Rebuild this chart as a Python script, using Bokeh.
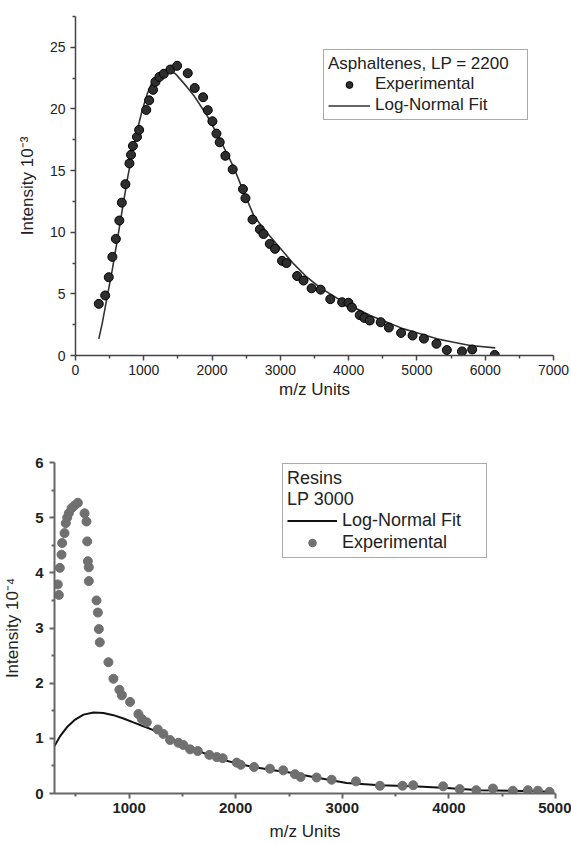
from bokeh.plotting import figure
from bokeh.layouts import column
from bokeh.models import Legend, LegendItem, Range1d, FixedTicker, ColumnDataSource
from bokeh.embed import file_html
from bokeh.resources import INLINE

FONT = "Liberation Sans"

# ---------------- Asphaltenes (top) ----------------
asph_x = [341, 435, 487, 540, 591, 642, 678, 731, 790, 813,
          841, 900, 932, 1036, 1078, 1136, 1171, 1229, 1293, 1390,
          1488, 1644, 1746, 1869, 1937, 2005, 2064, 2112, 2195, 2302,
          2452, 2489, 2592, 2700, 2753, 2845, 2922, 3024, 3090, 3245,
          3339, 3457, 3590, 3731, 3905, 3997, 4048, 4162, 4230, 4309,
          4470, 4589, 4768, 4936, 5102, 5286, 5438, 5660, 5809, 6139]
asph_y = [4.19, 4.87, 6.35, 8.0, 9.46, 10.95, 12.4, 13.9, 15.58, 16.28,
          17.0, 17.73, 18.3, 19.92, 20.7, 21.55, 22.2, 22.6, 22.85, 23.2,
          23.5, 22.9, 21.7, 20.95, 19.9, 19.0, 18.0, 17.3, 16.2, 15.1,
          13.5, 12.76, 11.03, 10.23, 9.86, 9.05, 8.65, 7.68, 7.5, 6.45,
          6.08, 5.45, 5.34, 4.57, 4.32, 4.28, 3.89, 3.28, 3.05, 2.84,
          2.7, 2.27, 1.83, 1.62, 1.37, 0.95, 0.44, 0.33, 0.49, 0.05]
asph_fit_x = [341, 390, 463, 537, 610, 683, 756, 830, 903, 976,
              1049, 1122, 1195, 1293, 1390, 1463, 1537, 1634, 1732, 1829,
              1927, 2025, 2122, 2220, 2317, 2415, 2610, 2756, 2902, 3049,
              3195, 3390, 3586, 3830, 4074, 4317, 4561, 4805, 5049, 5293,
              5537, 5781, 6147]
asph_fit_y = [1.35, 2.57, 4.73, 6.9, 9.3, 11.76, 14.2, 16.35, 18.25, 19.87,
              21.2, 22.17, 22.7, 22.98, 23.07, 22.85, 22.4, 21.77, 21.1, 20.28,
              19.46, 18.46, 17.44, 16.36, 15.27, 13.92, 11.35, 10.27, 9.33, 8.38,
              7.43, 6.35, 5.49, 4.65, 3.92, 3.24, 2.7, 2.16, 1.76, 1.35,
              1.08, 0.81, 0.62]
asph_xticks = [0, 1000, 2000, 3000, 4000, 5000, 6000, 7000]
asph_yticks = [0, 5, 10, 15, 20, 25]

# ---------------- Resins (bottom) ----------------
res_x = [341, 331, 350, 366, 372, 394, 406, 419, 434, 460, 488, 519,
         582, 600, 607, 613, 622, 622, 694, 707, 716, 725, 806, 853,
         909, 932, 1009, 1087, 1119, 1166, 1269, 1321, 1384, 1462, 1509, 1572,
         1644, 1753, 1822, 1878, 2009, 2047, 2172, 2321, 2446, 2555, 2609, 2759,
         2900, 3128, 3353, 3565, 3665, 3946, 4101, 4257, 4413, 4600, 4741, 4835, 4944]
res_y = [3.60, 3.79, 4.09, 4.33, 4.54, 4.72, 4.90, 5.00, 5.08, 5.17, 5.22, 5.27,
         5.08, 4.93, 4.57, 4.21, 4.10, 3.85, 3.50, 3.28, 2.98, 2.74, 2.38, 2.08,
         1.88, 1.78, 1.66, 1.44, 1.35, 1.29, 1.16, 1.08, 0.97, 0.92, 0.88, 0.80,
         0.77, 0.70, 0.66, 0.64, 0.56, 0.52, 0.48, 0.45, 0.42, 0.35, 0.30, 0.29,
         0.25, 0.22, 0.14, 0.14, 0.15, 0.13, 0.08, 0.06, 0.09, 0.05, 0.06, 0.05, 0.03]
res_fit_x = [300, 353, 416, 494, 572, 666, 759, 853, 947, 1040,
             1134, 1228, 1321, 1415, 1509, 1603, 1728, 1884, 2040, 2197,
             2353, 2503, 2728, 3040, 3353, 3665, 3978, 4290, 4600, 4944]
res_fit_y = [0.86, 1.04, 1.20, 1.34, 1.43, 1.47, 1.46, 1.42, 1.36, 1.29,
             1.22, 1.15, 1.07, 0.98, 0.90, 0.82, 0.71, 0.61, 0.53, 0.47,
             0.42, 0.38, 0.30, 0.19, 0.15, 0.13, 0.10, 0.06, 0.05, 0.03]
res_xticks = [1000, 2000, 3000, 4000, 5000]
res_yticks = [0, 1, 2, 3, 4, 5, 6]


def style_axes(p, color, width, tick_size, tick_style, label_size):
    for ax in (p.xaxis[0], p.yaxis[0]):
        ax.axis_line_color = color
        ax.axis_line_width = width
        ax.major_tick_line_color = color
        ax.major_tick_line_width = width
        ax.minor_tick_line_color = color
        ax.minor_tick_line_width = width
        ax.major_tick_out = 5
        ax.major_tick_in = 0
        ax.minor_tick_out = 3
        ax.minor_tick_in = 0
        ax.major_label_text_font = FONT
        ax.major_label_text_font_size = tick_size
        ax.major_label_text_font_style = tick_style
        ax.major_label_text_color = "#222222"
        ax.axis_label_text_font = FONT
        ax.axis_label_text_font_size = label_size
        ax.axis_label_text_font_style = "normal"
        ax.axis_label_text_color = "#222222"
    p.xgrid.visible = False
    p.ygrid.visible = False
    p.outline_line_color = None


# ---- top figure ----
p1 = figure(width=571, height=420, x_range=Range1d(0, 7000), y_range=Range1d(0, 27.5),
            output_backend="svg", toolbar_location=None,
            min_border_left=75, min_border_right=18, min_border_top=16, min_border_bottom=65,
            x_axis_label="m/z Units", y_axis_label="Intensity 10\u207b\u00b3")
p1.frame_align = False
p1.xaxis.ticker = FixedTicker(ticks=asph_xticks,
                              minor_ticks=[t + 500 for t in asph_xticks[:-1]])
p1.yaxis.ticker = FixedTicker(ticks=asph_yticks,
                              minor_ticks=[t + 2.5 for t in asph_yticks])
style_axes(p1, "#444444", 1.5, "14px", "normal", "17px")
p1.xaxis.major_label_standoff = 4
p1.xaxis.axis_label_standoff = 2
p1.yaxis.major_label_standoff = 5
p1.yaxis.axis_label_standoff = 10

src_a = ColumnDataSource(dict(x=asph_x, y=asph_y))
src_af = ColumnDataSource(dict(x=asph_fit_x, y=asph_fit_y))
r_afit = p1.line("x", "y", source=src_af, line_color="#333333", line_width=1.6)
r_apts = p1.scatter("x", "y", source=src_a, size=9, fill_color="#2e2e2e",
                    line_color="#000000", line_width=1)

leg1 = Legend(items=[LegendItem(label="Experimental", renderers=[r_apts]),
                     LegendItem(label="Log-Normal Fit", renderers=[r_afit])],
              title="Asphaltenes, LP = 2200", location=(248, 235))
leg1.title_text_font = FONT
leg1.title_text_font_size = "17px"
leg1.title_text_font_style = "normal"
leg1.title_text_color = "#222222"
leg1.title_standoff = 0
leg1.label_text_font = FONT
leg1.label_text_font_size = "17px"
leg1.label_text_color = "#222222"
leg1.label_height = 17
leg1.glyph_height = 17
leg1.glyph_width = 42
leg1.label_width = 148
leg1.label_standoff = 5
leg1.spacing = 1
leg1.padding = 4
leg1.margin = 0
leg1.border_line_color = "#555555"
leg1.border_line_width = 1.5
leg1.background_fill_color = "white"
p1.add_layout(leg1)

# ---- bottom figure ----
p2 = figure(width=571, height=423, x_range=Range1d(300, 5000), y_range=Range1d(0, 6),
            output_backend="svg", toolbar_location=None,
            min_border_left=54, min_border_right=16, min_border_top=42, min_border_bottom=50,
            x_axis_label="m/z Units", y_axis_label="Intensity 10\u207b\u2074")
p2.frame_align = False
p2.xaxis.ticker = FixedTicker(ticks=res_xticks,
                              minor_ticks=[500, 1500, 2500, 3500, 4500])
p2.yaxis.ticker = FixedTicker(ticks=res_yticks,
                              minor_ticks=[t + 0.5 for t in res_yticks[:-1]])
style_axes(p2, "#666666", 2, "15px", "bold", "17px")
p2.xaxis.major_label_standoff = 4
p2.xaxis.axis_label_standoff = 6
p2.yaxis.major_label_standoff = 6
p2.yaxis.axis_label_standoff = 10

src_r = ColumnDataSource(dict(x=res_x, y=res_y))
src_rf = ColumnDataSource(dict(x=res_fit_x, y=res_fit_y))
r_rfit = p2.line("x", "y", source=src_rf, line_color="#111111", line_width=2)
r_rpts = p2.scatter("x", "y", source=src_r, size=9, fill_color="#707070",
                    line_color="#707070", line_width=1)

leg2 = Legend(items=[LegendItem(label="Log-Normal Fit", renderers=[r_rfit]),
                     LegendItem(label="Experimental", renderers=[r_rpts])],
              title="Resins\nLP 3000", location=(228, 235))
leg2.title_text_font = FONT
leg2.title_text_font_size = "18px"
leg2.title_text_font_style = "normal"
leg2.title_text_color = "#222222"
leg2.title_standoff = 0
leg2.label_text_font = FONT
leg2.label_text_font_size = "18px"
leg2.label_text_color = "#222222"
leg2.label_height = 19
leg2.glyph_height = 19
leg2.glyph_width = 50
leg2.label_width = 140
leg2.label_standoff = 5
leg2.spacing = 1
leg2.padding = 4
leg2.margin = 0
leg2.border_line_color = "#555555"
leg2.border_line_width = 1.5
leg2.background_fill_color = "white"
p2.add_layout(leg2)

layout = column(p1, p2, spacing=0)
open("out.html", "w").write(file_html(layout, INLINE))
